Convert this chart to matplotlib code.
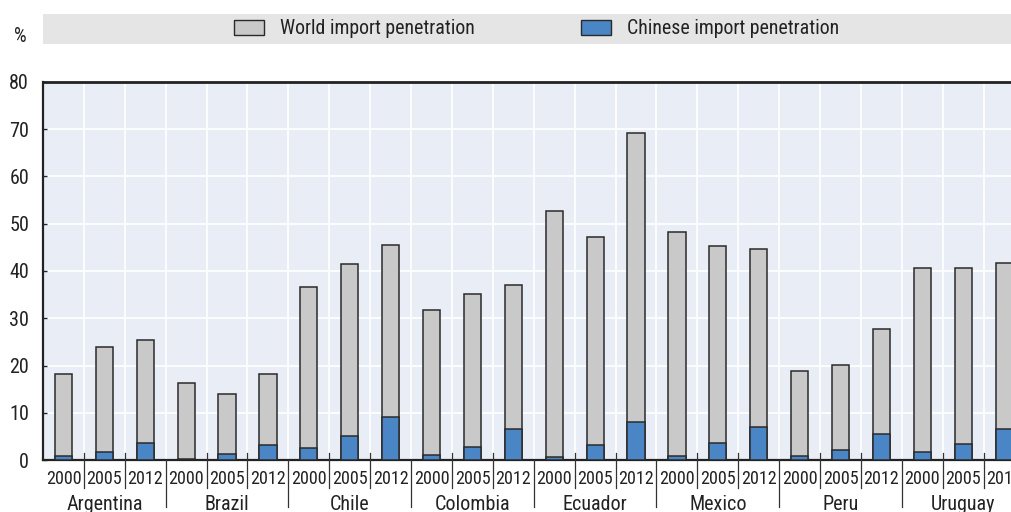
import matplotlib
matplotlib.use("Agg")
import matplotlib.pyplot as plt
from matplotlib import font_manager
from matplotlib.patches import Rectangle
from matplotlib.transforms import blended_transform_factory
import numpy as np

names = {f.name for f in font_manager.fontManager.ttflist}
for cand in ["Liberation Sans Narrow", "Roboto Condensed", "Arial Narrow"]:
    if cand in names:
        FONT = cand
        break
else:
    FONT = "Liberation Sans"
plt.rcParams["font.family"] = [FONT, "DejaVu Sans"]

countries = ["Argentina", "Brazil", "Chile", "Colombia", "Ecuador", "Mexico", "Peru", "Uruguay"]
years = ["2000", "2005", "2012"]
world = [18.2, 23.9, 25.5,
         16.3, 14.0, 18.2,
         36.7, 41.4, 45.4,
         31.7, 35.1, 37.1,
         52.6, 47.2, 69.3,
         48.3, 45.3, 44.6,
         18.9, 20.2, 27.8,
         40.7, 40.6, 41.6]
chinese = [0.8, 1.7, 3.5,
           0.3, 1.2, 3.1,
           2.5, 5.0, 9.2,
           1.0, 2.8, 6.5,
           0.6, 3.1, 8.0,
           0.8, 3.6, 7.0,
           0.8, 2.1, 5.5,
           1.6, 3.3, 6.5]
yticks = [0, 10, 20, 30, 40, 50, 60, 70, 80]

W, H = 1011, 512
fig = plt.figure(figsize=(W / 100, H / 100), dpi=100)

def fx(px):
    return px / W

def fy(py):
    return 1 - py / H

slot = 40.9
n = len(world)
left_px, top_px, bot_px = 43, 82, 460
ax = fig.add_axes([fx(left_px), fy(bot_px), fx(slot * n), (bot_px - top_px) / H])

GRAY = "#c9c9c9"
BLUE = "#4a86c6"
EDGE = "#2a2a2a"
TXT = "#222222"
x = np.arange(n)
bw = 0.42
ax.bar(x, world, width=bw, color=GRAY, edgecolor=EDGE, linewidth=1.1, zorder=3)
ax.bar(x, chinese, width=bw, color=BLUE, edgecolor=EDGE, linewidth=1.1, zorder=4)

ax.set_facecolor("#e9eef6")
ax.set_xlim(-0.5, n - 0.5)
ax.set_ylim(0, 80)
ax.set_yticks(yticks)
ax.set_yticklabels([str(v) for v in yticks], fontsize=14.5, color=TXT)
ax.tick_params(axis="y", direction="in", length=3, width=1, color=TXT, pad=10)

ax.set_xticks(x)
ax.set_xticklabels(years * len(countries), fontsize=13, color=TXT)
ax.tick_params(axis="x", length=0, pad=7)
ax.set_xticks(np.arange(n - 1) + 0.5, minor=True)
ax.tick_params(axis="x", which="minor", length=0)
ax.grid(True, which="minor", axis="x", color="white", linewidth=1.2, zorder=0)
ax.grid(True, which="major", axis="y", color="white", linewidth=1.2, zorder=0)
ax.set_axisbelow(True)

for s in ["top", "left", "bottom"]:
    ax.spines[s].set_color(TXT)
ax.spines["top"].set_linewidth(2)
ax.spines["left"].set_linewidth(1.6)
ax.spines["bottom"].set_linewidth(1.6)
ax.spines["right"].set_visible(False)

trans = blended_transform_factory(ax.transData, ax.transAxes)
plot_h = bot_px - top_px
for b in range(n - 1):
    xb = b + 0.5
    if (b + 1) % 3 == 0:
        ax.plot([xb, xb], [-47 / plot_h, 0], color="#333333", lw=0.9,
                transform=trans, clip_on=False, zorder=5)
    else:
        ax.plot([xb, xb], [-28 / plot_h, 7 / plot_h], color="#333333", lw=0.9,
                transform=trans, clip_on=False, zorder=5)

for i, c in enumerate(countries):
    ax.text(3 * i + 1, -44 / plot_h, c, transform=trans, ha="center", va="center",
            fontsize=14.5, color=TXT)

# "%" label
fig.text(fx(20), fy(37), "%", fontsize=14.5, color=TXT, ha="center", va="center")

# legend band
fig.patches.append(Rectangle((fx(43), fy(44)), fx(W - 43), (44 - 14) / H,
                             transform=fig.transFigure, facecolor="#e5e5e5",
                             edgecolor="none", zorder=0))
fig.patches.append(Rectangle((fx(234), fy(35)), fx(30), 15 / H, transform=fig.transFigure,
                             facecolor=GRAY, edgecolor=EDGE, linewidth=1.0, zorder=1))
fig.text(fx(280), fy(28.5), "World import penetration", fontsize=14.3, color=TXT,
         ha="left", va="center")
fig.patches.append(Rectangle((fx(581), fy(35)), fx(30), 15 / H, transform=fig.transFigure,
                             facecolor=BLUE, edgecolor=EDGE, linewidth=1.0, zorder=1))
fig.text(fx(627), fy(28.5), "Chinese import penetration", fontsize=14.3, color=TXT,
         ha="left", va="center")

fig.savefig("out.png", dpi=100)
